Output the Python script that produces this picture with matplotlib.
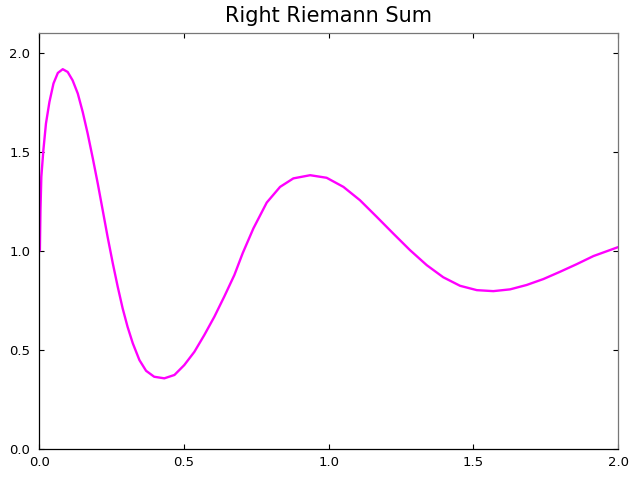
import matplotlib
matplotlib.use("Agg")
import matplotlib.pyplot as plt

title = "Right Riemann Sum"
x_vals = [0.000, 0.002, 0.004, 0.007, 0.014, 0.023, 0.035, 0.049, 0.064, 0.081,
          0.098, 0.115, 0.133, 0.150, 0.167, 0.185, 0.202, 0.219, 0.236, 0.254,
          0.271, 0.288, 0.305, 0.323, 0.346, 0.369, 0.397, 0.432, 0.467, 0.501,
          0.536, 0.570, 0.605, 0.639, 0.674, 0.703, 0.740, 0.786, 0.832, 0.878,
          0.936, 0.993, 1.051, 1.108, 1.166, 1.223, 1.281, 1.339, 1.396, 1.454,
          1.512, 1.569, 1.627, 1.684, 1.742, 1.800, 1.857, 1.915, 2.000]
y_vals = [1.000, 1.005, 1.207, 1.375, 1.509, 1.644, 1.753, 1.846, 1.899, 1.918,
          1.904, 1.862, 1.795, 1.702, 1.594, 1.467, 1.341, 1.207, 1.072, 0.938,
          0.820, 0.711, 0.618, 0.535, 0.450, 0.396, 0.366, 0.358, 0.375, 0.425,
          0.492, 0.576, 0.669, 0.770, 0.879, 0.990, 1.115, 1.245, 1.324, 1.367,
          1.383, 1.370, 1.324, 1.257, 1.173, 1.089, 1.005, 0.929, 0.868, 0.825,
          0.803, 0.798, 0.807, 0.829, 0.859, 0.896, 0.934, 0.975, 1.020]
x_ticks = [0.0, 0.5, 1.0, 1.5, 2.0]
y_ticks = [0.0, 0.5, 1.0, 1.5, 2.0]

fig = plt.figure(figsize=(6.3, 4.8), dpi=100)
ax = fig.add_axes([0.0624, 0.064, 0.9186, 0.867])
ax.plot(x_vals, y_vals, color="#ff00ff", lw=1.7, solid_joinstyle="round",
        solid_capstyle="round")
ax.set_xlim(0, 2)
ax.set_ylim(0, 2.1)
ax.set_xticks(x_ticks)
ax.set_yticks(y_ticks)
ax.set_xticklabels([f"{t:.1f}" for t in x_ticks])
ax.set_yticklabels([f"{t:.1f}" for t in y_ticks])
ax.tick_params(direction="in", length=3.6, width=0.8, labelsize=9.5,
               top=True, right=True, color="black")
ax.tick_params(axis="y", pad=6.5)
ax.tick_params(axis="x", pad=5)
for s in ["left", "bottom"]:
    ax.spines[s].set_color("black")
    ax.spines[s].set_linewidth(0.9)
for s in ["top", "right"]:
    ax.spines[s].set_color("#777777")
    ax.spines[s].set_linewidth(0.9)
ax.set_title(title, fontsize=15, pad=8)
fig.savefig("out.png", dpi=100)
